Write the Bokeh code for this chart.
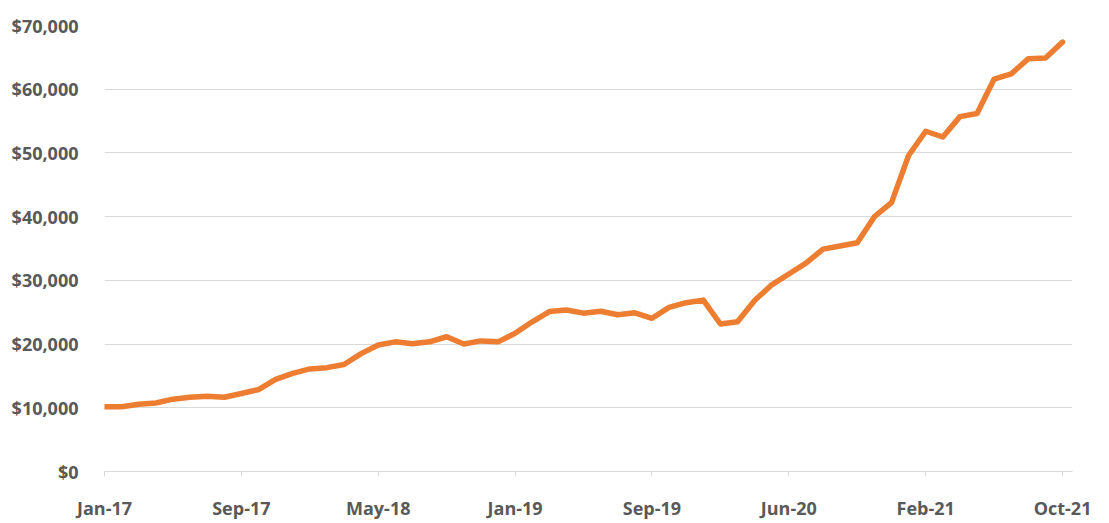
from bokeh.plotting import figure
from bokeh.models import Range1d, FixedTicker, NumeralTickFormatter
from bokeh.embed import file_html
from bokeh.resources import INLINE

months = [
    "Jan-17", "Feb-17", "Mar-17", "Apr-17", "May-17", "Jun-17", "Jul-17", "Aug-17",
    "Sep-17", "Oct-17", "Nov-17", "Dec-17",
    "Jan-18", "Feb-18", "Mar-18", "Apr-18", "May-18", "Jun-18", "Jul-18", "Aug-18",
    "Sep-18", "Oct-18", "Nov-18", "Dec-18",
    "Jan-19", "Feb-19", "Mar-19", "Apr-19", "May-19", "Jun-19", "Jul-19", "Aug-19",
    "Sep-19", "Oct-19", "Dec-19",
    "Jan-20", "Feb-20", "Mar-20", "Apr-20", "May-20", "Jun-20", "Jul-20", "Aug-20",
    "Sep-20", "Oct-20", "Nov-20", "Dec-20",
    "Jan-21", "Feb-21", "Mar-21", "Apr-21", "May-21", "Jun-21", "Jul-21", "Aug-21",
    "Sep-21", "Oct-21",
]

values = [
    10150, 10150, 10550, 10750, 11350, 11650, 11800, 11650,
    12250, 12850, 14450, 15400,
    16100, 16300, 16800, 18500, 19850, 20350, 20050, 20350,
    21150, 20000, 20500, 20350,
    21700, 23500, 25100, 25350, 24850, 25150, 24600, 24900,
    24050, 25750, 26500,
    26900, 23150, 23500, 26850, 29300, 31000, 32700, 34900,
    35400, 35900, 40000, 42200,
    49600, 53400, 52500, 55700, 56200, 61600, 62400, 64800,
    64900, 67400,
]

label_every = 8
y_ticks = [0, 10000, 20000, 30000, 40000, 50000, 60000, 70000]

x = list(range(len(values)))
x_ticks = x[::label_every]

TEXT = "#595959"
GRID = "#d9d9d9"
FONT = "Open Sans"

p = figure(
    width=1100, height=522,
    output_backend="svg", toolbar_location=None,
    x_range=Range1d(0, 56.58), y_range=Range1d(0, 70000),
    min_border_left=104, min_border_right=28,
    min_border_top=25, min_border_bottom=50,
)
p.outline_line_color = None
p.background_fill_color = "white"
p.border_fill_color = "white"

p.line(x, values, line_color="#ED7D31", line_width=5.5,
       line_cap="round", line_join="round")

# y axis
p.yaxis.ticker = FixedTicker(ticks=y_ticks)
p.yaxis.formatter = NumeralTickFormatter(format="$0,0")
p.yaxis.axis_line_color = None
p.yaxis.major_tick_line_color = None
p.yaxis.minor_tick_line_color = None
p.yaxis.major_tick_out = 0
p.yaxis.major_label_standoff = 26
p.yaxis.major_label_text_font = FONT
p.yaxis.major_label_text_font_style = "bold"
p.yaxis.major_label_text_font_size = "18px"
p.yaxis.major_label_text_color = TEXT

# x axis
p.xaxis.ticker = FixedTicker(ticks=x_ticks)
p.xaxis.major_label_overrides = {i: months[i] for i in x_ticks}
p.xaxis.axis_line_color = GRID
p.xaxis.axis_line_width = 1
p.xaxis.major_tick_line_color = GRID
p.xaxis.major_tick_in = 0
p.xaxis.major_tick_out = 5
p.xaxis.minor_tick_line_color = None
p.xaxis.major_label_standoff = 19
p.xaxis.major_label_text_font = FONT
p.xaxis.major_label_text_font_style = "bold"
p.xaxis.major_label_text_font_size = "18px"
p.xaxis.major_label_text_color = TEXT

p.xgrid.grid_line_color = None
p.ygrid.grid_line_color = GRID
p.ygrid.grid_line_width = 1

open("out.html", "w").write(file_html(p, INLINE))
